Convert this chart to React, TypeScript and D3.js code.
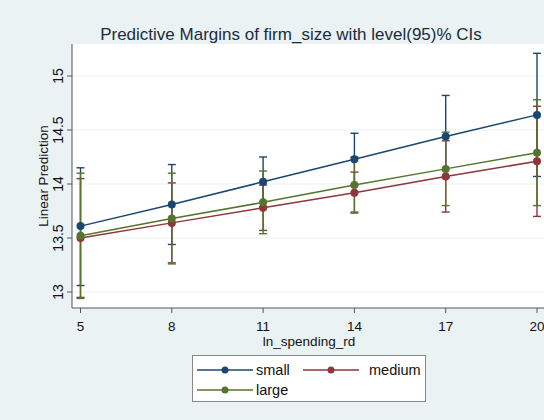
import React from 'react';
import * as d3 from 'd3';

// ln_spending_rd values at which margins were evaluated
const xValues = [5, 8, 11, 14, 17, 20];
const yTicks = [13, 13.5, 14, 14.5, 15];

const seriesNames = ['small', 'medium', 'large'];
const seriesColors = ['#1a476f', '#90353b', '#55752f'];

// predicted margins and 95% CI bounds
const smallFit = [13.61, 13.81, 14.02, 14.23, 14.44, 14.64];
const smallLo = [13.06, 13.44, 13.79, 13.99, 14.06, 14.07];
const smallHi = [14.15, 14.18, 14.25, 14.47, 14.82, 15.21];

const mediumFit = [13.5, 13.64, 13.78, 13.92, 14.07, 14.21];
const mediumLo = [12.95, 13.27, 13.57, 13.74, 13.74, 13.7];
const mediumHi = [14.05, 14.01, 13.99, 14.11, 14.4, 14.72];

const largeFit = [13.52, 13.68, 13.83, 13.99, 14.14, 14.29];
const largeLo = [12.94, 13.26, 13.54, 13.73, 13.8, 13.8];
const largeHi = [14.1, 14.1, 14.12, 14.25, 14.48, 14.78];

const fits = [smallFit, mediumFit, largeFit];
const los = [smallLo, mediumLo, largeLo];
const his = [smallHi, mediumHi, largeHi];

const W = 544;
const H = 420;
const bg = '#eaf2f3';
const font = '"Liberation Sans", Arial, sans-serif';

const App = () => {
  const plotLeft = 72;
  const plotRight = 548;
  const plotTop = 44;
  const plotBottom = 308;

  const x = d3.scaleLinear().domain([5, 20]).range([80.5, 537]);
  const y = d3.scaleLinear().domain([13, 15]).range([292, 76]);

  const line = d3
    .line<number>()
    .x((_, i) => x(xValues[i]))
    .y((d) => y(d));

  const cap = 4;

  return (
    <svg
      width={W}
      height={H}
      style={{ position: 'absolute', left: 0, top: 0 }}
      fontFamily={font}
    >
      <rect width={W} height={H} fill={bg} />
      <rect
        x={plotLeft}
        y={plotTop}
        width={plotRight - plotLeft}
        height={plotBottom - plotTop}
        fill="#fff"
      />

      {/* grid */}
      {yTicks.map((t) => (
        <line
          key={t}
          x1={plotLeft}
          x2={plotRight}
          y1={y(t)}
          y2={y(t)}
          stroke={bg}
          strokeWidth={1.2}
        />
      ))}

      {/* title */}
      <text x={291} y={40} fontSize={17} textAnchor="middle" fill="#1c2b3a">
        Predictive Margins of firm_size with level(95)% CIs
      </text>

      {/* y axis */}
      <line x1={plotLeft} x2={plotLeft} y1={plotTop} y2={plotBottom} stroke="#555" />
      {yTicks.map((t) => (
        <g key={t}>
          <line x1={plotLeft - 5} x2={plotLeft} y1={y(t)} y2={y(t)} stroke="#555" />
          <text
            transform={`translate(${plotLeft - 9},${y(t)}) rotate(-90)`}
            fontSize={14}
            textAnchor="middle"
            fill="#111"
          >
            {String(t)}
          </text>
        </g>
      ))}
      <text
        transform={`translate(48,${(plotTop + plotBottom) / 2}) rotate(-90)`}
        fontSize={13.5}
        textAnchor="middle"
        fill="#111"
      >
        Linear Prediction
      </text>

      {/* x axis */}
      <line x1={plotLeft} x2={plotRight} y1={plotBottom} y2={plotBottom} stroke="#555" />
      {xValues.map((t) => (
        <g key={t}>
          <line x1={x(t)} x2={x(t)} y1={plotBottom} y2={plotBottom + 5} stroke="#555" />
          <text x={x(t)} y={331} fontSize={13.5} textAnchor="middle" fill="#111">
            {t}
          </text>
        </g>
      ))}
      <text x={309} y={346} fontSize={13.5} textAnchor="middle" fill="#111">
        ln_spending_rd
      </text>

      {/* confidence intervals */}
      {seriesNames.map((s, k) => (
        <g key={s} stroke={seriesColors[k]} strokeWidth={1.4}>
          {xValues.map((xv, i) => (
            <g key={xv}>
              <line x1={x(xv)} x2={x(xv)} y1={y(los[k][i])} y2={y(his[k][i])} />
              <line x1={x(xv) - cap} x2={x(xv) + cap} y1={y(los[k][i])} y2={y(los[k][i])} />
              <line x1={x(xv) - cap} x2={x(xv) + cap} y1={y(his[k][i])} y2={y(his[k][i])} />
            </g>
          ))}
        </g>
      ))}

      {/* lines and markers */}
      {seriesNames.map((s, k) => (
        <g key={s}>
          <path d={line(fits[k]) || ''} fill="none" stroke={seriesColors[k]} strokeWidth={1.5} />
          {fits[k].map((v, i) => (
            <circle key={i} cx={x(xValues[i])} cy={y(v)} r={4} fill={seriesColors[k]} />
          ))}
        </g>
      ))}

      {/* legend */}
      <rect x={192.5} y={355.5} width={233} height={46} fill="#fff" stroke="#888" />
      {seriesNames.map((s, k) => {
        const col = k % 2;
        const row = Math.floor(k / 2);
        const lx = col === 0 ? 197 : 303;
        const ly = 370 + row * 20;
        return (
          <g key={s}>
            <line x1={lx} x2={lx + 56} y1={ly} y2={ly} stroke={seriesColors[k]} strokeWidth={1.5} />
            <circle cx={lx + 28} cy={ly} r={3.5} fill={seriesColors[k]} />
            <text x={col === 0 ? 256 : 369} y={ly + 5} fontSize={14.5} fill="#111">
              {s}
            </text>
          </g>
        );
      })}
    </svg>
  );
};

export default App;
